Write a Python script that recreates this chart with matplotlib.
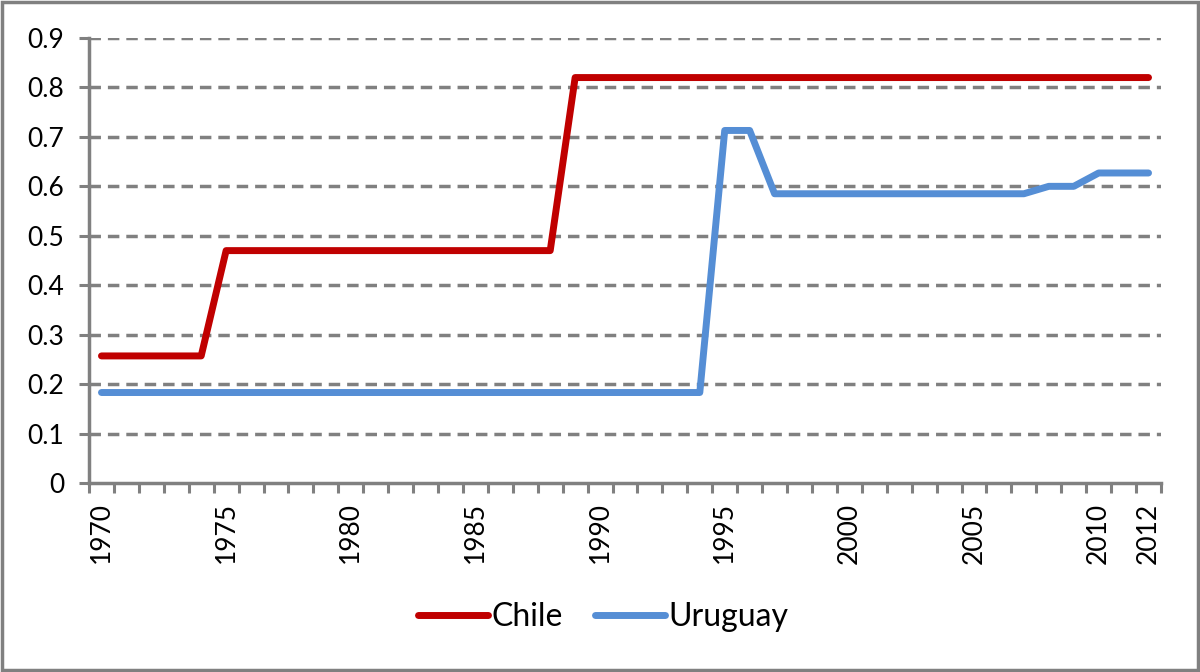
import numpy as np
import matplotlib
matplotlib.use('Agg')
import matplotlib.pyplot as plt
from matplotlib.patches import Rectangle

# data
years = list(range(1970, 2013))
chile = [0.257] * 5 + [0.47] * 14 + [0.82] * 24
uruguay = ([0.183] * 25 + [0.713, 0.713] + [0.585] * 11
           + [0.60, 0.60] + [0.627] * 3)
tick_years = [1970, 1975, 1980, 1985, 1990, 1995, 2000, 2005, 2010, 2012]
y_ticks = [0, 0.1, 0.2, 0.3, 0.4, 0.5, 0.6, 0.7, 0.8, 0.9]
y_labels = ['0', '0.1', '0.2', '0.3', '0.4', '0.5', '0.6', '0.7', '0.8', '0.9']

plt.rcParams['font.family'] = ['Lato', 'DejaVu Sans']
grey = '#808080'

fig = plt.figure(figsize=(12, 6.72), dpi=100)
ax = fig.add_axes([89 / 1200, 1 - 483 / 672, (1161 - 89) / 1200, (483 - 38) / 672])

ax.plot(years, chile, color='#C00000', lw=5, label='Chile',
        solid_capstyle='round', solid_joinstyle='round', zorder=3)
ax.plot(years, uruguay, color='#558ED5', lw=5, label='Uruguay',
        solid_capstyle='round', solid_joinstyle='round', zorder=3)

ax.set_xlim(1969.5, 2012.5)
ax.set_ylim(0, 0.9)

# y axis
ax.set_yticks(y_ticks, y_labels)
ax.tick_params(axis='y', length=7, width=2.2, color=grey, pad=11, labelsize=19)
for y in y_ticks[1:]:
    ax.axhline(y, color=grey, lw=2.5, linestyle=(0, (3.3, 2.0)), zorder=1)

# x axis: ticks at category boundaries, labels at selected years
ax.set_xticks(tick_years, [str(t) for t in tick_years], rotation=90)
ax.tick_params(axis='x', which='major', length=0, pad=14, labelsize=19)
ax.set_xticks(np.arange(1969.5, 2013, 1.0), minor=True)
ax.tick_params(axis='x', which='minor', length=7, width=2.2, color=grey)

for side in ['top', 'right']:
    ax.spines[side].set_visible(False)
for side in ['left', 'bottom']:
    ax.spines[side].set_color(grey)
    ax.spines[side].set_linewidth(2.5)

fig.legend(loc='center', bbox_to_anchor=(0.5025, 0.082), ncol=2, frameon=False,
           fontsize=23, handlelength=2.2, handletextpad=0.1, columnspacing=1.0)

fig.patches.append(Rectangle((0.002, 0.003), 0.996, 0.994, transform=fig.transFigure,
                             fill=False, edgecolor=grey, lw=2.5))

fig.savefig('out.png', dpi=100)
